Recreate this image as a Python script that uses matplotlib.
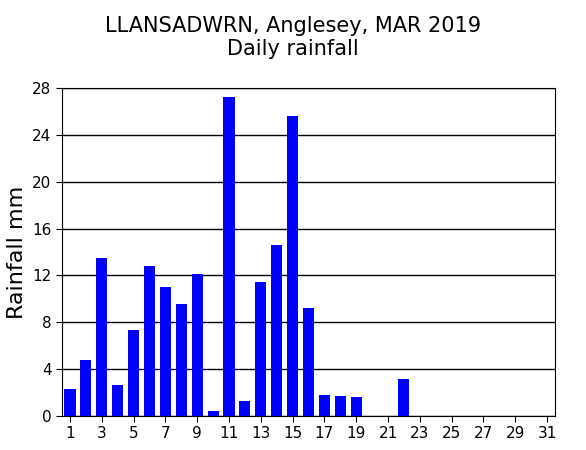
import matplotlib
matplotlib.use("Agg")
import matplotlib.pyplot as plt

days = list(range(1, 32))
rain = [2.3, 4.8, 13.5, 2.65, 7.3, 12.8, 11.0, 9.6, 12.1, 0.4,
        27.2, 1.3, 11.4, 14.6, 25.6, 9.2, 1.8, 1.7, 1.6, 0, 0,
        3.2, 0, 0, 0, 0, 0, 0, 0, 0, 0]

fig = plt.figure(figsize=(5.86, 4.5), dpi=100)
ax = fig.add_axes([62/586, 34/450, 493/586, 328/450])
ax.bar(days, rain, width=0.7, color='#0000ff', zorder=3)
ax.set_xlim(0.5, 31.5)
ax.set_ylim(0, 28)
ax.set_yticks(range(0, 29, 4))
ax.set_xticks(range(1, 32, 2))
ax.yaxis.grid(True, color='black', linewidth=1, zorder=0)
ax.tick_params(labelsize=11, direction='out', length=4)
ax.set_ylabel('Rainfall mm', fontsize=16)
fig.text(0.5, 0.965, 'LLANSADWRN, Anglesey, MAR 2019\nDaily rainfall',
         ha='center', va='top', fontsize=15, linespacing=1.2)
fig.savefig('out.png')
